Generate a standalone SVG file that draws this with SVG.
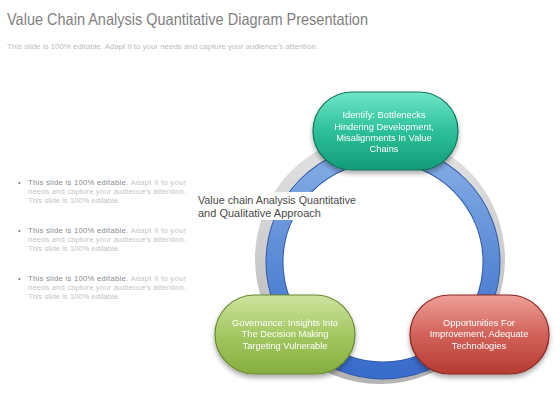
<svg xmlns="http://www.w3.org/2000/svg" width="560" height="420" viewBox="0 0 560 420">
<defs>
<linearGradient id="gBlue" x1="0" y1="0" x2="0" y2="1">
<stop offset="0" stop-color="#86aee6"/>
<stop offset="0.5" stop-color="#5a8ad6"/>
<stop offset="1" stop-color="#3a6ccc"/>
</linearGradient>
<linearGradient id="gGrey" x1="0" y1="0" x2="0" y2="1">
<stop offset="0" stop-color="#e2e2e2"/>
<stop offset="1" stop-color="#b4b4b4"/>
</linearGradient>
<linearGradient id="gTeal" x1="0" y1="0" x2="0" y2="1">
<stop offset="0" stop-color="#6fe6c8"/>
<stop offset="0.5" stop-color="#2cc09a"/>
<stop offset="1" stop-color="#139c78"/>
</linearGradient>
<linearGradient id="gGreen" x1="0" y1="0" x2="0" y2="1">
<stop offset="0" stop-color="#cde39e"/>
<stop offset="0.5" stop-color="#a4c862"/>
<stop offset="1" stop-color="#84ad3e"/>
</linearGradient>
<linearGradient id="gRed" x1="0" y1="0" x2="0" y2="1">
<stop offset="0" stop-color="#eea096"/>
<stop offset="0.5" stop-color="#d2625a"/>
<stop offset="1" stop-color="#b53a32"/>
</linearGradient>
<filter id="sh" x="-20%" y="-20%" width="140%" height="150%">
<feDropShadow dx="0" dy="3" stdDeviation="2.5" flood-color="#000" flood-opacity="0.35"/>
</filter>
</defs>
<style>
.title{font-family:"Liberation Sans",Arial,sans-serif;font-size:16.5px;fill:#7f7f7f}
.sub{font-family:"Liberation Sans",Arial,sans-serif;font-size:8px;fill:#bdbdbd}
.bl{font-family:"Liberation Sans",Arial,sans-serif;font-size:7.6px;fill:#c4c4c4}
.bd{fill:#8a8a8a}
.mid{font-family:"Liberation Sans",Arial,sans-serif;font-size:11px;fill:#4a4a4a}
.nt{font-family:"Liberation Sans",Arial,sans-serif;font-size:9.3px;fill:#ffffff;text-anchor:middle}
</style>
<rect width="560" height="420" fill="#ffffff"/>
<text class="title" x="7" y="25" textLength="361" lengthAdjust="spacingAndGlyphs">Value Chain Analysis Quantitative Diagram Presentation</text>
<text class="sub" x="7" y="49" textLength="311" lengthAdjust="spacingAndGlyphs">This slide is 100% editable.  Adapt it to your needs and capture your audience's attention.</text>
<g id="bullets">
<g>
<text class="bl bd" x="18" y="185">•</text>
<text class="bl" x="28" y="185" textLength="158" lengthAdjust="spacing"><tspan class="bd">This slide is 100% editable.</tspan> Adapt it to your</text>
<text class="bl" x="28" y="194" textLength="158" lengthAdjust="spacing">needs and capture your audience's attention.</text>
<text class="bl" x="28" y="203">This slide is 100% editable.</text>
</g>
<g>
<text class="bl bd" x="18" y="233">•</text>
<text class="bl" x="28" y="233" textLength="158" lengthAdjust="spacing"><tspan class="bd">This slide is 100% editable.</tspan> Adapt it to your</text>
<text class="bl" x="28" y="242" textLength="158" lengthAdjust="spacing">needs and capture your audience's attention.</text>
<text class="bl" x="28" y="251">This slide is 100% editable.</text>
</g>
<g>
<text class="bl bd" x="18" y="281">•</text>
<text class="bl" x="28" y="281" textLength="158" lengthAdjust="spacing"><tspan class="bd">This slide is 100% editable.</tspan> Adapt it to your</text>
<text class="bl" x="28" y="290" textLength="158" lengthAdjust="spacing">needs and capture your audience's attention.</text>
<text class="bl" x="28" y="299">This slide is 100% editable.</text>
</g>
</g>
<g id="connectors">
<circle cx="380" cy="259" r="115" fill="none" stroke="url(#gGrey)" stroke-width="20"/>
<circle cx="383" cy="262" r="108.5" fill="none" stroke="#2f5aa8" stroke-width="18"/>
<circle cx="383" cy="262" r="108.5" fill="none" stroke="url(#gBlue)" stroke-width="16"/>
</g>
<g id="center-label">
<rect x="196" y="192" width="162" height="28" fill="#ffffff"/>
<text class="mid" x="198" y="204" textLength="158" lengthAdjust="spacingAndGlyphs">Value chain Analysis Quantitative</text>
<text class="mid" x="198" y="217">and Qualitative Approach</text>
</g>
<g id="node-identify" filter="url(#sh)">
<rect x="313" y="92" width="145" height="78" rx="39" ry="39" fill="url(#gTeal)" stroke="#0f7559" stroke-width="1.2"/>
<text class="nt" x="384" y="118">Identify:  Bottlenecks</text>
<text class="nt" x="384" y="130">Hindering Development,</text>
<text class="nt" x="384" y="141">Misalignments In Value</text>
<text class="nt" x="384" y="152">Chains</text>
</g>
<g id="node-governance" filter="url(#sh)">
<rect x="215" y="295" width="140" height="79" rx="39.5" ry="39.5" fill="url(#gGreen)" stroke="#6a8a32" stroke-width="1.2"/>
<text class="nt" x="285" y="326">Governance:  Insights Into</text>
<text class="nt" x="285" y="337">The Decision Making</text>
<text class="nt" x="285" y="349">Targeting Vulnerable</text>
</g>
<g id="node-opportunities" filter="url(#sh)">
<rect x="410" y="295" width="139" height="79" rx="39.5" ry="39.5" fill="url(#gRed)" stroke="#8a2620" stroke-width="1.2"/>
<text class="nt" x="479" y="326">Opportunities For</text>
<text class="nt" x="479" y="337">Improvement,  Adequate</text>
<text class="nt" x="479" y="349">Technologies</text>
</g>
</svg>
